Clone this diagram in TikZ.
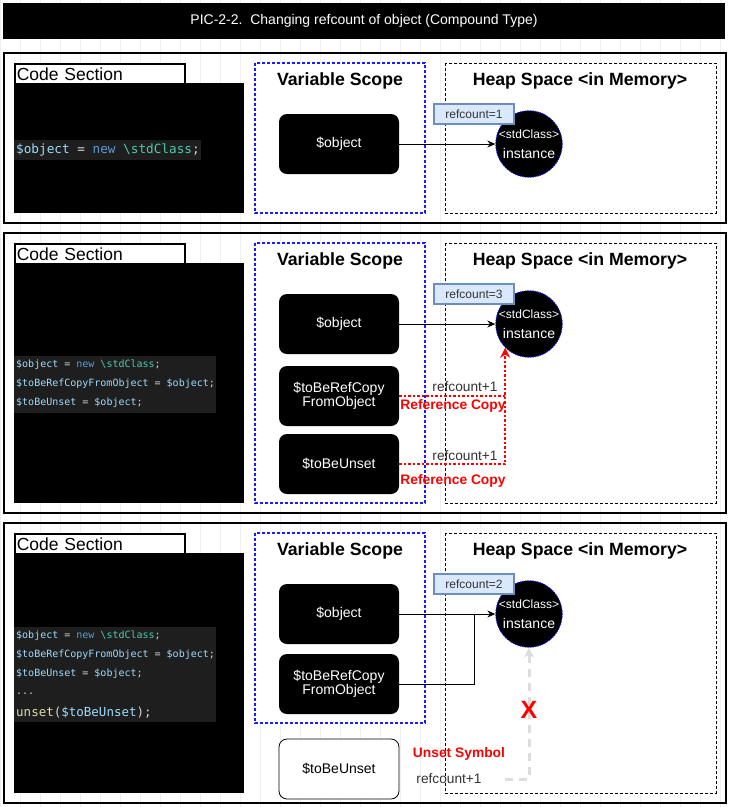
\documentclass[tikz,border=0pt]{standalone}
\usepackage{fontspec}
\setmainfont{Liberation Sans}
\setsansfont{Liberation Sans}
\setmonofont{DejaVu Sans Mono}
\usepackage{xcolor}
\usepackage{tikz}
\usetikzlibrary{arrows.meta,positioning,calc}
\definecolor{cbg}{HTML}{1E1E1E}
\definecolor{cvar}{HTML}{9CDCFE}
\definecolor{ckw}{HTML}{569CD6}
\definecolor{ccls}{HTML}{4EC9B0}
\definecolor{cop}{HTML}{D4D4D4}
\definecolor{cfn}{HTML}{DCDCAA}
\definecolor{rcfill}{HTML}{DAE8FC}
\definecolor{rcline}{HTML}{6C8EBF}
\definecolor{gridc}{HTML}{EFEFEF}
\definecolor{fade}{HTML}{DDDDDD}
\definecolor{txt}{HTML}{333333}
\definecolor{scp}{HTML}{1A1AFF}
\newcommand{\Vr}[1]{\textcolor{cvar}{#1}}
\newcommand{\Kw}[1]{\textcolor{ckw}{#1}}
\newcommand{\Cl}[1]{\textcolor{ccls}{#1}}
\newcommand{\Op}[1]{\textcolor{cop}{#1}}
\newcommand{\Fn}[1]{\textcolor{cfn}{#1}}
\newcommand{\Fs}[1]{\fontsize{#1}{#1}\selectfont}
\newcommand{\Inst}{{\Fs{12}<stdClass>}\\[8pt]{\Fs{14}instance}}

\tikzset{
  panel/.style={draw, line width=2pt},
  codetag/.style={draw, line width=1.5pt, fill=white, anchor=north west, minimum width=170, minimum height=20, inner sep=1pt, text width=166, align=left, font=\Fs{17.5}},
  codestrip/.style={fill=cbg, anchor=north west, inner sep=0},
  codeline/.style={anchor=west, inner sep=0, font=\ttfamily\Fs{10}},
  scopebox/.style={draw=scp, fill=white, dash pattern=on 3pt off 2pt, line width=1.2pt},
  heapbox/.style={draw=black, fill=white, dash pattern=on 3pt off 2pt, line width=0.8pt},
  boxtitle/.style={font=\bfseries\Fs{17.7}},
  varnode/.style={fill=black, text=white, rounded corners=8pt, minimum width=120, minimum height=60, align=center, font=\Fs{14}},
  inst/.style={circle, fill=black, draw=scp, dash pattern=on 1.5pt off 1pt, line width=0.8pt, minimum size=60, inner sep=0, text=white, align=center},
  refbadge/.style={draw=rcline, fill=rcfill, line width=1.5pt, minimum width=80, minimum height=20, inner sep=0, text=txt, font=\Fs{12}},
  ptr/.style={line width=1pt, -{Stealth[length=8pt,width=7pt]}},
  refcp/.style={red, line width=2.5pt, dash pattern=on 2.5pt off 2pt},
  ghost/.style={fade, line width=3pt, dash pattern=on 8pt off 6pt},
  note/.style={text=txt, font=\Fs{13.7}},
  redtag/.style={text=red, font=\bfseries\Fs{13.8}}
}

\begin{document}
\begin{tikzpicture}[x=1pt, y=-1pt]
  \useasboundingbox (0,0) rectangle (729,807);
  \draw[gridc, line width=0.5pt, step=20] (0,0) grid (729,807);

  \node[fill=black, text=white, minimum width=722, minimum height=36, font=\Fs{14}] (title) at (364,21)
    {PIC-2-2.\ \ Changing refcount of object (Compound Type)};

  % panel 1
  \draw[panel] (4,53) rectangle (726,223);
  \fill (14,83) rectangle (244,213);
  \node[codetag] (tagA) at (14,63) {Code Section};
  \node[codestrip, minimum width=187, minimum height=20] (stripA) at (14,140) {};
  \node[codeline, font=\ttfamily\Fs{12.7}] (lnA) at (16,150)
    {\Vr{\$object} \Op{=} \Kw{new} \Cl{\textbackslash stdClass}\Op{;}};
  \draw[scopebox] (255,63) rectangle (425,213);
  \node[boxtitle] (vsA) at (340,81) {Variable Scope};
  \draw[heapbox] (445,63) rectangle (716,213);
  \node[boxtitle] (hsA) at (580,81) {Heap Space <in Memory>};
  \node[varnode] (objA) at (339,144) {\$object};
  \node[inst] (instA) at (529,144) {\Inst};
  \node[refbadge] (rcA) at (474,114) {refcount=1};
  \draw[ptr] (objA) -- (instA);

  % panel 2
  \draw[panel] (4,233) rectangle (726,513);
  \fill (14,263) rectangle (244,503);
  \node[codetag] (tagB) at (14,243) {Code Section};
  \node[codestrip, minimum width=202, minimum height=57] (stripB) at (14,356) {};
  \node[codeline] (lnB1) at (16,365) {\Vr{\$object} \Op{=} \Kw{new} \Cl{\textbackslash stdClass}\Op{;}};
  \node[codeline] (lnB2) at (16,384) {\Vr{\$toBeRefCopyFromObject} \Op{=} \Vr{\$object}\Op{;}};
  \node[codeline] (lnB3) at (16,403) {\Vr{\$toBeUnset} \Op{=} \Vr{\$object}\Op{;}};
  \draw[scopebox] (255,243) rectangle (425,503);
  \node[boxtitle] (vsB) at (340,261) {Variable Scope};
  \draw[heapbox] (445,243) rectangle (716,503);
  \node[boxtitle] (hsB) at (580,261) {Heap Space <in Memory>};
  \node[varnode] (objB) at (339,324) {\$object};
  \node[varnode] (cpyB) at (339,396) {\$toBeRefCopy\\FromObject};
  \node[varnode] (unsB) at (339,464) {\$toBeUnset};
  \node[inst] (instB) at (529,324) {\Inst};
  \node[refbadge] (rcB) at (474,294) {refcount=3};
  \draw[ptr] (objB) -- (instB);
  \draw[refcp] (cpyB.east) -- (cpyB.east -| instB.225);
  \draw[refcp, -{Stealth[length=10pt,width=10pt]}] (unsB.east) -- (unsB.east -| instB.225) -- (instB.225);
  \node[note] (rcB1) at (465,387) {refcount+1};
  \node[redtag] (rfB1) at (453,406) {Reference Copy};
  \node[note] (rcB2) at (465,456) {refcount+1};
  \node[redtag] (rfB2) at (453,481) {Reference Copy};

  % panel 3
  \draw[panel] (4,523) rectangle (726,803);
  \fill (14,553) rectangle (244,793);
  \node[codetag] (tagC) at (14,533) {Code Section};
  \node[codestrip, minimum width=202, minimum height=95] (stripC) at (14,627) {};
  \node[codeline] (lnC1) at (16,636) {\Vr{\$object} \Op{=} \Kw{new} \Cl{\textbackslash stdClass}\Op{;}};
  \node[codeline] (lnC2) at (16,655) {\Vr{\$toBeRefCopyFromObject} \Op{=} \Vr{\$object}\Op{;}};
  \node[codeline] (lnC3) at (16,674) {\Vr{\$toBeUnset} \Op{=} \Vr{\$object}\Op{;}};
  \node[codeline] (lnC4) at (16,694) {\Op{...}};
  \node[codeline, font=\ttfamily\Fs{12.5}] (lnC5) at (16,713) {\Fn{unset}\Op{(}\Vr{\$toBeUnset}\Op{);}};
  \draw[scopebox] (255,533) rectangle (425,723);
  \node[boxtitle] (vsC) at (340,551) {Variable Scope};
  \draw[heapbox] (445,533) rectangle (716,793);
  \node[boxtitle] (hsC) at (580,551) {Heap Space <in Memory>};
  \node[varnode] (objC) at (339,614) {\$object};
  \node[varnode] (cpyC) at (339,684) {\$toBeRefCopy\\FromObject};
  \node[varnode, fill=white, text=black, draw=black, line width=0.8pt] (unsC) at (339,769) {\$toBeUnset};
  \node[inst] (instC) at (529,614) {\Inst};
  \node[refbadge] (rcC) at (474,584) {refcount=2};
  \coordinate (jC) at (474,614);
  \coordinate (gC) at (505,779);
  \draw[ptr] (objC) -- (instC);
  \draw[line width=1pt] (cpyC.east) -| (jC);
  \draw[ghost, -{Stealth[length=10pt,width=10pt]}] (gC) -- (gC -| instC) -- (instC.south);
  \node[text=red, font=\bfseries\Fs{25}] (xC) at (529,710) {X};
  \node[redtag] (usC) at (459,754) {Unset Symbol};
  \node[note] (rcC1) at (449,779) {refcount+1};
\end{tikzpicture}
\end{document}
